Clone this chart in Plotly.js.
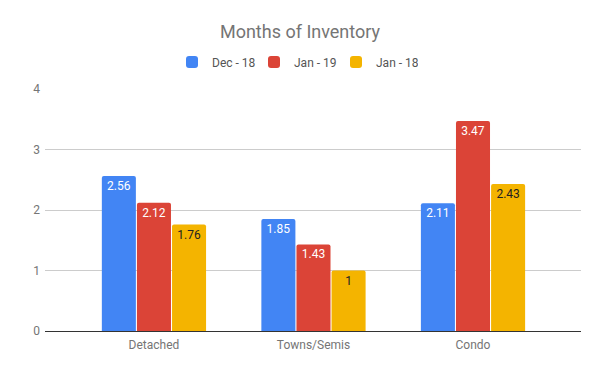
<!DOCTYPE html>
<html>
<head>
<meta charset="utf-8">
<script src="https://cdn.plot.ly/plotly-3.0.1.min.js"></script>
<style>html,body{margin:0;padding:0;background:#fff}#chart{width:600px;height:371px}</style>
</head>
<body>
<div id="chart"></div>
<script>
const categories = ["Detached", "Towns/Semis", "Condo"];
const seriesNames = ["Dec - 18", "Jan - 19", "Jan - 18"];
const dec18 = [2.56, 1.85, 2.11];
const jan19 = [2.12, 1.43, 3.47];
const jan18 = [1.76, 1, 2.43];
const yTicks = [0, 1, 2, 3, 4];

const colors = ["#4285F4", "#DB4437", "#F4B400"];
const textColors = ["#ffffff", "#ffffff", "#222222"];
const values = [dec18, jan19, jan18];

const traces = values.map((v, i) => ({
  type: "bar",
  name: seriesNames[i],
  x: categories,
  y: v,
  text: v.map(n => String(n)),
  textposition: "inside",
  insidetextanchor: "end",
  textangle: 0,
  textfont: {family: "Roboto, sans-serif", size: 12, color: textColors[i]},
  marker: {color: colors[i], cornerradius: 2},
  hoverinfo: "none"
}));

const layout = {
  width: 600, height: 371,
  margin: {l: 45, r: 19, t: 89, b: 40},
  font: {family: "Roboto, sans-serif", color: "#757575", size: 12},
  paper_bgcolor: "#ffffff",
  plot_bgcolor: "#ffffff",
  title: {text: "Months of Inventory", font: {size: 18, color: "#757575", family: "Roboto, sans-serif"}, x: 0.5, xref: "container", y: 0.914, yref: "container", yanchor: "middle"},
  showlegend: true,
  legend: {orientation: "h", xref: "container", x: 0.5 - 5/600, xanchor: "center", yref: "container", y: 1 - 62/371, yanchor: "middle", font: {size: 12, color: "#555555"}, entrywidth: 37},
  barmode: "group",
  bargap: 0.34,
  bargroupgap: 0.03,
  xaxis: {range: [-0.683, 2.677], showgrid: false, showline: true, linecolor: "#333333", linewidth: 1, ticks: "", ticklabelstandoff: 3, tickfont: {size: 12, color: "#757575"}, fixedrange: true},
  yaxis: {range: [0, 4], tickvals: yTicks, showgrid: true, gridcolor: "#cccccc", gridwidth: 1, zeroline: false, showline: false, ticks: "", ticklen: 0, ticklabelstandoff: 4, tickfont: {size: 12, color: "#757575"}, fixedrange: true}
};

Plotly.newPlot("chart", traces, layout, {displayModeBar: false, staticPlot: true});
</script>
</body>
</html>
